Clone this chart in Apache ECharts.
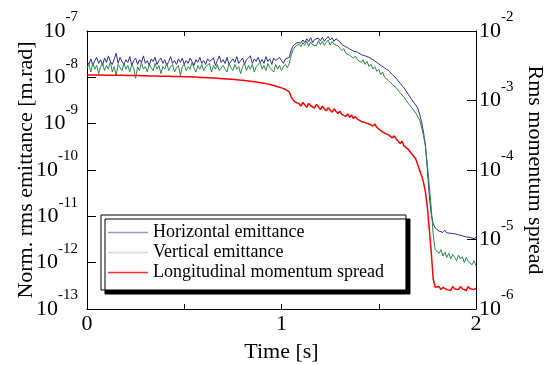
<!DOCTYPE html>
<html>
<head>
<meta charset="utf-8">
<script src="https://cdn.jsdelivr.net/npm/echarts@6/dist/echarts.min.js"></script>
<style>html,body{margin:0;padding:0;background:#fff;}#c{width:550px;height:365px;}</style>
</head>
<body>
<div id="c"></div>
<script>
const times = [0,0.01,0.02,0.03,0.04,0.05,0.06,0.07,0.08,0.09,
0.1,0.11,0.12,0.13,0.14,0.15,0.16,0.17,0.18,0.19,
0.2,0.21,0.22,0.23,0.24,0.25,0.26,0.27,0.28,0.29,
0.3,0.31,0.32,0.33,0.34,0.35,0.36,0.37,0.38,0.39,
0.4,0.41,0.42,0.43,0.44,0.45,0.46,0.47,0.48,0.49,
0.5,0.51,0.52,0.53,0.54,0.55,0.56,0.57,0.58,0.59,
0.6,0.61,0.62,0.63,0.64,0.65,0.66,0.67,0.68,0.69,
0.7,0.71,0.72,0.73,0.74,0.75,0.76,0.77,0.78,0.79,
0.8,0.81,0.82,0.83,0.84,0.85,0.86,0.87,0.88,0.89,
0.9,0.91,0.92,0.93,0.94,0.95,0.96,0.97,0.98,0.99,
1,1.01,1.02,1.03,1.04,1.05,1.06,1.07,1.08,1.09,
1.1,1.11,1.12,1.13,1.14,1.15,1.16,1.17,1.18,1.19,
1.2,1.21,1.22,1.23,1.24,1.25,1.26,1.27,1.28,1.29,
1.3,1.31,1.32,1.33,1.34,1.35,1.36,1.37,1.38,1.39,
1.4,1.41,1.42,1.43,1.44,1.45,1.46,1.47,1.48,1.49,
1.5,1.51,1.52,1.53,1.54,1.55,1.56,1.57,1.58,1.59,
1.6,1.61,1.62,1.63,1.64,1.65,1.66,1.67,1.68,1.69,
1.7,1.71,1.72,1.73,1.74,1.75,1.76,1.77,1.78,1.79,
1.8,1.81,1.82,1.83,1.84,1.85,1.86,1.87,1.88,1.89,
1.9,1.91,1.92,1.93,1.94,1.95,1.96,1.97,1.98,1.99,
2];

const horizontalEmittance = [2.2e-8,1.9e-8,2.5e-8,1.8e-8,2.3e-8,2.7e-8,2.0e-8,2.4e-8,1.8e-8,2.6e-8,
2.1e-8,2.9e-8,2.2e-8,1.9e-8,2.5e-8,3.3e-8,2.0e-8,2.7e-8,2.2e-8,1.9e-8,
2.4e-8,2.1e-8,2.8e-8,1.8e-8,2.3e-8,2.6e-8,1.9e-8,2.4e-8,2.1e-8,2.9e-8,
2.0e-8,2.3e-8,1.8e-8,2.5e-8,2.2e-8,2.7e-8,1.9e-8,2.3e-8,2.6e-8,2.0e-8,
2.4e-8,1.8e-8,2.2e-8,2.8e-8,2.0e-8,2.3e-8,1.9e-8,2.5e-8,2.1e-8,2.6e-8,
1.9e-8,2.3e-8,2.0e-8,2.6e-8,2.2e-8,1.8e-8,2.4e-8,2.1e-8,2.7e-8,2.0e-8,
2.3e-8,1.9e-8,2.5e-8,2.2e-8,2.0e-8,2.6e-8,1.8e-8,2.3e-8,2.9e-8,2.1e-8,
2.4e-8,2.0e-8,2.7e-8,1.9e-8,2.2e-8,2.5e-8,2.1e-8,2.8e-8,2.0e-8,2.3e-8,
2.6e-8,1.9e-8,2.4e-8,2.2e-8,2.9e-8,2.0e-8,2.5e-8,2.2e-8,2.7e-8,2.1e-8,
2.4e-8,2.0e-8,2.8e-8,2.2e-8,2.5e-8,1.9e-8,2.6e-8,2.3e-8,2.1e-8,2.7e-8,
2.3e-8,2.0e-8,2.5e-8,2.4e-8,2.7e-8,3.9e-8,4.8e-8,5.3e-8,5.6e-8,6.0e-8,
5.5e-8,6.4e-8,5.6e-8,6.8e-8,5.9e-8,7.2e-8,5.6e-8,6.6e-8,6.1e-8,7.0e-8,
6.1e-8,7.3e-8,6.0e-8,6.8e-8,7.6e-8,6.4e-8,7.1e-8,6.0e-8,6.8e-8,6.2e-8,
5.9e-8,5.1e-8,5.4e-8,4.6e-8,4.8e-8,4.1e-8,4.3e-8,3.7e-8,4.0e-8,3.5e-8,
3.6e-8,3.1e-8,3.4e-8,2.9e-8,3.2e-8,2.7e-8,2.8e-8,2.4e-8,2.5e-8,2.1e-8,
2.2e-8,1.8e-8,1.95e-8,1.6e-8,1.7e-8,1.4e-8,1.4e-8,1.15e-8,1.15e-8,9.5e-9,
9.2e-9,7.4e-9,7.4e-9,5.9e-9,5.5e-9,4.4e-9,4.0e-9,3.3e-9,3.0e-9,2.5e-9,
2.2e-9,1.6e-9,1.1e-9,6.6e-10,3.4e-10,1.0e-10,2.8e-11,1.1e-11,7.0e-12,5.6e-12,
5.4e-12,4.8e-12,5.1e-12,4.5e-12,5.0e-12,4.4e-12,4.8e-12,4.3e-12,4.6e-12,4.2e-12,
4.5e-12,4.0e-12,4.3e-12,3.8e-12,4.1e-12,3.6e-12,3.9e-12,3.5e-12,3.7e-12,3.3e-12,
3.5e-12];

const verticalEmittance = [1.6e-8,1.9e-8,1.3e-8,2.1e-8,1.5e-8,1.8e-8,1.2e-8,1.7e-8,2.0e-8,1.4e-8,
1.8e-8,1.5e-8,2.2e-8,1.3e-8,1.7e-8,1.1e-8,1.9e-8,1.6e-8,1.4e-8,2.0e-8,
1.5e-8,1.8e-8,1.3e-8,1.9e-8,1.6e-8,9.5e-9,1.7e-8,1.4e-8,2.1e-8,1.5e-8,
1.7e-8,1.3e-8,1.9e-8,1.6e-8,1.4e-8,2.0e-8,1.5e-8,1.8e-8,1.2e-8,1.7e-8,
1.5e-8,2.0e-8,1.4e-8,1.7e-8,1.9e-8,1.3e-8,1.6e-8,1.8e-8,1.1e-8,1.7e-8,
1.9e-8,1.4e-8,1.7e-8,1.5e-8,2.1e-8,1.6e-8,1.3e-8,1.8e-8,1.5e-8,1.9e-8,
1.4e-8,1.7e-8,1.6e-8,2.0e-8,1.3e-8,1.8e-8,1.5e-8,1.9e-8,1.4e-8,1.6e-8,
1.8e-8,1.5e-8,1.3e-8,2.0e-8,1.6e-8,1.4e-8,1.9e-8,1.5e-8,1.7e-8,1.2e-8,
1.7e-8,2.0e-8,1.4e-8,1.8e-8,1.5e-8,1.9e-8,1.3e-8,1.7e-8,1.6e-8,2.1e-8,
1.5e-8,1.8e-8,1.4e-8,2.0e-8,1.6e-8,1.7e-8,1.3e-8,1.9e-8,1.5e-8,1.8e-8,
1.4e-8,1.7e-8,1.9e-8,1.6e-8,2.0e-8,3.0e-8,4.0e-8,4.6e-8,4.9e-8,5.2e-8,
4.6e-8,5.6e-8,4.9e-8,6.0e-8,4.7e-8,5.8e-8,5.0e-8,5.5e-8,4.8e-8,6.2e-8,
5.1e-8,6.0e-8,4.9e-8,5.7e-8,6.4e-8,5.0e-8,5.9e-8,5.2e-8,5.6e-8,4.8e-8,
4.6e-8,3.8e-8,4.2e-8,3.3e-8,3.6e-8,3.0e-8,3.2e-8,2.6e-8,2.9e-8,2.4e-8,
2.6e-8,2.1e-8,2.4e-8,1.9e-8,2.2e-8,1.7e-8,1.9e-8,1.5e-8,1.7e-8,1.35e-8,
1.5e-8,1.15e-8,1.3e-8,1.0e-8,1.1e-8,8.5e-9,9.0e-9,7.0e-9,7.5e-9,6.0e-9,
6.0e-9,4.6e-9,4.8e-9,3.7e-9,3.6e-9,2.8e-9,2.7e-9,2.2e-9,2.0e-9,1.7e-9,
1.6e-9,1.2e-9,8.5e-10,5.5e-10,3.2e-10,1.3e-10,4.5e-11,1.5e-11,4.0e-12,1.9e-12,
2.0e-12,1.6e-12,1.9e-12,1.4e-12,1.7e-12,1.3e-12,1.6e-12,1.2e-12,1.5e-12,1.3e-12,
1.1e-12,1.45e-12,1.2e-12,1.35e-12,1.0e-12,1.3e-12,1.05e-12,1.15e-12,9.0e-13,1.1e-12,
8.5e-13];

const longitudinalSpread = [2.33e-3,2.33e-3,2.33e-3,2.33e-3,2.32e-3,2.32e-3,2.32e-3,2.32e-3,2.32e-3,2.31e-3,
2.31e-3,2.31e-3,2.31e-3,2.31e-3,2.30e-3,2.30e-3,2.30e-3,2.30e-3,2.30e-3,2.29e-3,
2.29e-3,2.29e-3,2.29e-3,2.28e-3,2.28e-3,2.28e-3,2.28e-3,2.27e-3,2.27e-3,2.27e-3,
2.27e-3,2.26e-3,2.26e-3,2.26e-3,2.26e-3,2.25e-3,2.25e-3,2.25e-3,2.24e-3,2.24e-3,
2.24e-3,2.23e-3,2.23e-3,2.23e-3,2.22e-3,2.22e-3,2.21e-3,2.21e-3,2.21e-3,2.20e-3,
2.20e-3,2.19e-3,2.19e-3,2.18e-3,2.18e-3,2.17e-3,2.17e-3,2.16e-3,2.15e-3,2.15e-3,
2.14e-3,2.13e-3,2.13e-3,2.12e-3,2.11e-3,2.10e-3,2.10e-3,2.09e-3,2.08e-3,2.07e-3,
2.06e-3,2.05e-3,2.04e-3,2.03e-3,2.02e-3,2.01e-3,2.00e-3,1.99e-3,1.98e-3,1.96e-3,
1.95e-3,1.94e-3,1.92e-3,1.91e-3,1.89e-3,1.88e-3,1.86e-3,1.84e-3,1.83e-3,1.81e-3,
1.79e-3,1.77e-3,1.75e-3,1.72e-3,1.70e-3,1.67e-3,1.64e-3,1.61e-3,1.58e-3,1.55e-3,
1.52e-3,1.49e-3,1.45e-3,1.40e-3,1.33e-3,1.12e-3,1.02e-3,9.5e-4,9.2e-4,9.0e-4,
8.3e-4,9.4e-4,8.6e-4,8.0e-4,9.1e-4,8.4e-4,8.7e-4,7.8e-4,8.8e-4,8.1e-4,
7.4e-4,8.3e-4,7.6e-4,7.1e-4,7.9e-4,7.3e-4,6.8e-4,7.6e-4,7.0e-4,6.5e-4,
7.0e-4,6.3e-4,6.6e-4,5.9e-4,6.4e-4,5.7e-4,6.2e-4,5.5e-4,5.9e-4,5.4e-4,
5.7e-4,5.0e-4,5.3e-4,4.8e-4,5.1e-4,4.6e-4,4.8e-4,4.3e-4,4.6e-4,4.1e-4,
4.2e-4,3.7e-4,3.9e-4,3.4e-4,3.6e-4,3.2e-4,3.3e-4,2.9e-4,3.1e-4,2.8e-4,
2.8e-4,2.4e-4,2.6e-4,2.2e-4,2.3e-4,2.0e-4,1.95e-4,1.7e-4,1.65e-4,1.45e-4,
1.2e-4,1.0e-4,8.3e-5,6.7e-5,4.8e-5,2.9e-5,1.4e-5,6.5e-6,2.7e-6,2.05e-6,
1.95e-6,2.1e-6,1.9e-6,2.05e-6,2.15e-6,1.9e-6,2.0e-6,1.85e-6,2.1e-6,1.95e-6,
2.05e-6,1.9e-6,2.1e-6,1.95e-6,2.0e-6,1.85e-6,2.1e-6,1.95e-6,2.0e-6,1.9e-6,
2.0e-6];

const seriesNames = ['Horizontal emittance', 'Vertical emittance', 'Longitudinal momentum spread'];
const xTickLabels = [0, 1, 2];

const FONT = "'Liberation Serif', 'Times New Roman', serif";
const pairs = arr => times.map((t, i) => [t, arr[i]]);
const powLabel = v => '{b|10}{s|' + Math.round(Math.log10(v)) + '}';
const powRich = {
  b: { fontFamily: FONT, fontSize: 22, color: '#000', lineHeight: 42 },
  s: { fontFamily: FONT, fontSize: 15, color: '#000', verticalAlign: 'top', lineHeight: 14 }
};

const chart = echarts.init(document.getElementById('c'), null, { renderer: 'canvas' });
chart.setOption({
  animation: false,
  backgroundColor: '#fff',
  grid: { left: 87, right: 74, top: 31, bottom: 56, containLabel: false, outerBoundsMode: 'none' },
  legend: {
    orient: 'vertical',
    left: 101, top: 215,
    padding: [8, 22, 8, 7],
    itemGap: 1,
    itemWidth: 40, itemHeight: 1.5,
    icon: 'rect',
    backgroundColor: '#fff',
    borderColor: '#000', borderWidth: 1,
    shadowColor: '#000', shadowOffsetX: 4, shadowOffsetY: 4, shadowBlur: 0,
    textStyle: { fontFamily: FONT, fontSize: 18, color: '#000', lineHeight: 19 },
    data: [
      { name: seriesNames[0], itemStyle: { color: '#9a9ad0' } },
      { name: seriesNames[1], itemStyle: { color: '#c4e4cc' } },
      { name: seriesNames[2], itemStyle: { color: '#ff2a2a' } }
    ]
  },
  xAxis: [{
    type: 'value', min: 0, max: 2, interval: 0.5,
    name: 'Time [s]', nameLocation: 'middle', nameGap: 32,
    nameTextStyle: { fontFamily: FONT, fontSize: 22, color: '#000' },
    axisLine: { show: true, onZero: false, lineStyle: { color: '#000', width: 1 } },
    axisTick: { show: true, inside: true, length: 5, lineStyle: { color: '#000' } },
    axisLabel: {
      margin: 4, fontFamily: FONT, fontSize: 22, color: '#000',
      formatter: v => (xTickLabels.indexOf(v) >= 0 ? String(v) : '')
    },
    splitLine: { show: false }
  }, {
    type: 'value', min: 0, max: 2, interval: 0.5, position: 'top',
    axisLine: { show: true, onZero: false, lineStyle: { color: '#000', width: 1 } },
    axisTick: { show: true, inside: true, length: 5, lineStyle: { color: '#000' } },
    axisLabel: { show: false },
    splitLine: { show: false }
  }],
  yAxis: [{
    type: 'log', logBase: 10, min: 1e-13, max: 1e-7, splitNumber: 6,
    position: 'left',
    name: 'Norm. rms emittance [m.rad]', nameLocation: 'middle', nameRotate: 90, nameGap: 50,
    nameMoveOverlap: false,
    nameTextStyle: { fontFamily: FONT, fontSize: 22, color: '#000' },
    axisLine: { show: true, onZero: false, lineStyle: { color: '#000', width: 1 } },
    axisTick: { show: true, inside: true, length: 9, lineStyle: { color: '#000' } },
    axisLabel: { margin: 9, formatter: powLabel, rich: powRich },
    minorTick: { show: false },
    splitLine: { show: false }
  }, {
    type: 'log', logBase: 10, min: 1e-6, max: 1e-2, splitNumber: 4,
    position: 'right',
    name: 'Rms momentum spread', nameLocation: 'middle', nameRotate: -90, nameGap: 48,
    nameMoveOverlap: false,
    nameTextStyle: { fontFamily: FONT, fontSize: 22, color: '#000' },
    axisLine: { show: true, onZero: false, lineStyle: { color: '#000', width: 1 } },
    axisTick: { show: true, inside: true, length: 9, lineStyle: { color: '#000' } },
    axisLabel: { margin: 3, formatter: powLabel, rich: powRich },
    splitLine: { show: false }
  }],
  series: [{
    name: seriesNames[0], type: 'line', yAxisIndex: 0, showSymbol: false, symbol: 'none',
    data: pairs(horizontalEmittance),
    lineStyle: { color: '#2d2d96', width: 1 }, itemStyle: { color: '#2d2d96' }
  }, {
    name: seriesNames[1], type: 'line', yAxisIndex: 0, showSymbol: false, symbol: 'none',
    data: pairs(verticalEmittance),
    lineStyle: { color: '#2a8a48', width: 1 }, itemStyle: { color: '#2a8a48' }
  }, {
    name: seriesNames[2], type: 'line', yAxisIndex: 1, showSymbol: false, symbol: 'none',
    data: pairs(longitudinalSpread),
    lineStyle: { color: '#ff0000', width: 1.5 }, itemStyle: { color: '#ff0000' }
  }]
});
</script>
</body>
</html>
